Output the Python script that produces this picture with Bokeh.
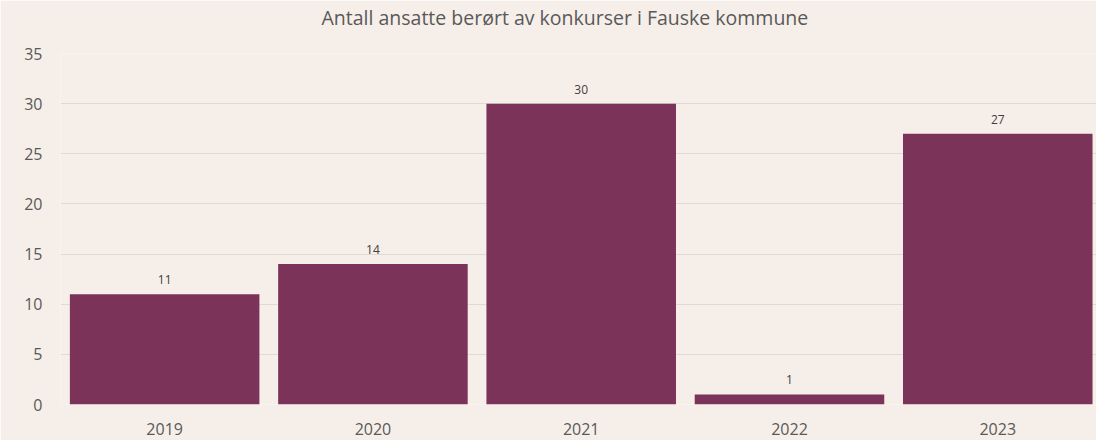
from bokeh.plotting import figure
from bokeh.models import ColumnDataSource, Range1d, FixedTicker, LabelSet, Title
from bokeh.core.properties import value
from bokeh.embed import file_html
from bokeh.resources import INLINE

years = ["2019", "2020", "2021", "2022", "2023"]
employees = [11, 14, 30, 1, 27]
y_ticks = [0, 5, 10, 15, 20, 25, 30, 35]
title_text = "Antall ansatte berørt av konkurser i Fauske kommune"

BG = "#F6EFE9"
BAR = "#7B3359"
TXT = "#595959"

xpos = list(range(len(years)))
src = ColumnDataSource(dict(x=xpos, y=employees, lab=[str(v) for v in employees]))

p = figure(width=1096, height=440, output_backend="svg", toolbar_location=None,
           x_range=Range1d(-0.5, 4.474), y_range=Range1d(0, 35),
           min_border_left=60, min_border_right=0, min_border_top=0, min_border_bottom=36,
           background_fill_color=BG, border_fill_color=BG, outline_line_color=None)

p.vbar(x="x", top="y", width=0.91, source=src, fill_color=BAR, line_color=None)

labels = LabelSet(x="x", y="y", text="lab", source=src, text_align="center",
                  text_baseline="bottom", y_offset=10, text_font=value("Open Sans"),
                  text_font_size=value("12px"), text_color="#404040")
p.add_layout(labels)

spacer = Title(text=" ", text_font_size="1px", standoff=15, text_color=BG)
p.add_layout(spacer, "above")
title = Title(text=title_text, align="left", offset=261, vertical_align="top",
              standoff=6, text_font="Open Sans", text_font_size="19.5px",
              text_font_style="normal", text_color=TXT)
p.add_layout(title, "above")

p.xaxis.ticker = FixedTicker(ticks=xpos)
p.xaxis.major_label_overrides = {i: y for i, y in enumerate(years)}
p.yaxis.ticker = FixedTicker(ticks=y_ticks)
for ax in (p.xaxis, p.yaxis):
    ax.axis_line_color = None
    ax.major_tick_line_color = None
    ax.minor_tick_line_color = None
    ax.major_tick_out = 0
    ax.major_tick_in = 0
    ax.major_label_text_font = "Open Sans"
    ax.major_label_text_font_size = "16px"
    ax.major_label_text_color = TXT
p.yaxis.major_label_standoff = 18
p.xaxis.major_label_standoff = 18

p.xgrid.grid_line_color = None
p.ygrid.grid_line_color = "#DEDAD6"
p.ygrid.grid_line_width = 1

open("out.html", "w").write(file_html(p, INLINE))
